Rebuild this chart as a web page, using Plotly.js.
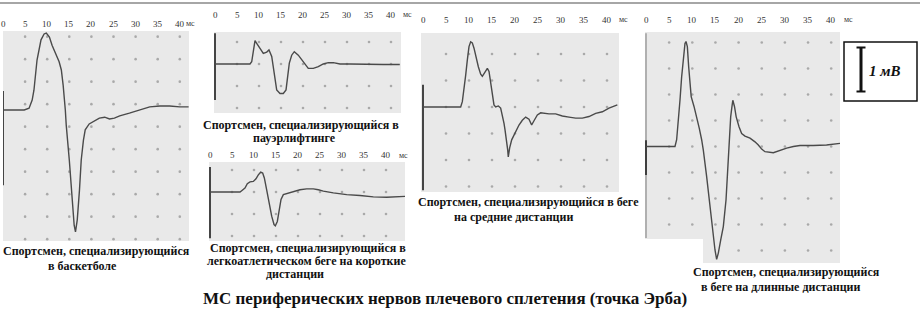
<!DOCTYPE html>
<html><head><meta charset="utf-8">
<script src="https://cdn.plot.ly/plotly-3.0.1.min.js"></script>
<style>html,body{margin:0;padding:0;background:#fff}#chart{width:920px;height:314px}</style>
</head><body><div id="chart"></div>
<script>
// ---------- DATA ----------
const tickValues = [0, 5, 10, 15, 20, 25, 30, 35, 40];
const tickLabels = ["0", "5", "10", "15", "20", "25", "30", "35", "40"];
const unitLabel = "мс";

// Panel 1: basketball
const t1 = [0, 4.8, 5.9, 6.6, 7.0, 7.7, 8.6, 9.3, 9.8, 10.5, 11.1, 12.0, 12.7, 13.2, 13.6, 14.1, 14.3, 15.0, 15.7, 16.1, 16.4, 16.8, 17.3, 17.7, 18.2, 18.6, 19.5, 20.7, 21.8, 23.0, 24.1, 25.2, 26.4, 28.6, 30.9, 33.2, 35.5, 37.7, 40.0, 42.0];
const v1 = [0, 0, 0.04, 0.22, 0.44, 1.11, 1.56, 1.69, 1.71, 1.62, 1.44, 1.22, 1.07, 0.89, 0.56, 0, -0.33, -1.11, -2.0, -2.56, -2.71, -2.44, -1.78, -1.11, -0.67, -0.44, -0.31, -0.24, -0.18, -0.16, -0.2, -0.18, -0.13, -0.07, 0, 0.07, 0.09, 0.09, 0.07, 0.07];
const stim1 = [0.42, -1.67];

// Panel 2: powerlifting
const t2 = [0, 7.95, 8.34, 8.7, 9.09, 9.48, 10.23, 10.98, 11.75, 12.27, 12.89, 13.25, 13.64, 14.02, 14.77, 15.52, 16.14, 16.52, 16.89, 17.43, 18.02, 18.93, 19.7, 20.45, 21.2, 22.34, 23.48, 24.61, 25.75, 26.89, 28.41, 30.68, 34.48, 38.25, 42.0];
const v2 = [0, 0, 0.05, 0.32, 0.53, 0.47, 0.36, 0.24, 0.27, 0.32, 0.17, -0.06, -0.36, -0.59, -0.67, -0.67, -0.59, -0.29, 0.02, 0.2, 0.28, 0.2, 0.09, -0.02, -0.1, -0.1, -0.06, 0, 0.03, 0.03, 0, 0, -0.01, -0.01, -0.01];
const stim2 = [0.7, -0.82];

// Panel 3: short-distance running
const t3 = [0, 6.82, 7.2, 7.95, 8.48, 9.09, 9.85, 10.45, 10.98, 11.52, 11.97, 12.35, 12.88, 13.41, 14.02, 14.55, 14.85, 15.3, 15.76, 16.14, 16.67, 17.42, 18.18, 19.32, 20.45, 21.97, 23.48, 24.62, 25.76, 28.03, 31.06, 34.09, 37.12, 40.15, 43.18, 44.32];
const v3 = [0, 0, 0.03, 0.09, 0.19, 0.23, 0.24, 0.3, 0.39, 0.45, 0.43, 0.32, 0.05, -0.25, -0.55, -0.74, -0.77, -0.67, -0.4, -0.17, -0.06, -0.04, -0.02, 0.02, 0.05, 0.07, 0.07, 0.05, 0.02, -0.02, -0.06, -0.08, -0.11, -0.12, -0.1, -0.1];
const stim3 = [0.57, -1.05];

// Panel 4: middle-distance running
const t4 = [0, 8.19, 8.55, 8.91, 9.28, 9.64, 10.0, 10.36, 10.72, 11.09, 11.45, 12.03, 12.54, 12.9, 13.41, 13.99, 14.35, 14.71, 15.07, 15.43, 15.8, 16.38, 16.88, 17.25, 17.61, 17.83, 18.19, 18.41, 18.54, 18.84, 19.28, 19.78, 20.15, 20.51, 20.87, 21.59, 22.32, 23.04, 23.62, 24.13, 24.86, 25.58, 26.3, 27.39, 28.84, 30.29, 31.74, 33.19, 34.64, 36.09, 37.54, 38.99, 40.43, 41.52, 42.25];
const v4 = [0, 0, 0.1, 0.32, 0.6, 0.89, 1.14, 1.23, 1.21, 1.11, 0.95, 0.76, 0.62, 0.58, 0.65, 0.73, 0.67, 0.45, 0.19, 0.04, 0, 0.02, -0.02, -0.15, -0.31, -0.43, -0.62, -0.81, -0.94, -0.77, -0.62, -0.53, -0.47, -0.4, -0.34, -0.25, -0.19, -0.23, -0.34, -0.26, -0.15, -0.11, -0.12, -0.13, -0.13, -0.17, -0.19, -0.21, -0.21, -0.18, -0.12, -0.09, -0.02, 0.02, 0.04];
const stim4 = [0.42, -1.57];

// Panel 5: long-distance running
const t5 = [0, 6.26, 6.62, 6.98, 7.34, 7.7, 8.06, 8.42, 8.64, 8.93, 9.22, 9.5, 9.76, 10.37, 10.95, 11.51, 12.02, 12.38, 13.1, 13.82, 14.54, 14.9, 15.26, 15.62, 16.13, 16.7, 17.28, 17.64, 17.86, 18.0, 18.29, 18.57, 18.75, 19.11, 19.48, 20.09, 20.66, 21.38, 22.46, 23.54, 24.26, 24.98, 25.7, 27.5, 28.94, 30.38, 31.82, 33.26, 36.13, 39.0, 41.9];
const v5 = [0, 0, 0.13, 0.45, 0.89, 1.34, 1.73, 1.98, 2.02, 1.92, 1.53, 1.15, 0.96, 0.77, 0.57, 0.35, 0.13, -0.07, -0.58, -1.16, -1.73, -1.99, -2.17, -2.05, -1.8, -1.54, -1.03, -0.45, -0.07, 0.25, 0.57, 0.77, 0.89, 0.77, 0.57, 0.38, 0.25, 0.2, 0.16, 0.09, 0.03, -0.05, -0.1, -0.12, -0.07, -0.03, 0, 0.02, 0.02, 0.03, 0.06];
const stim5 = [0.12, -0.55];
const edge5 = [2.18, -1.76];

const captions1 = ["Спортсмен, специализирующийся", "в баскетболе"];
const captions2 = ["Спортсмен, специализирующийся в", "пауэрлифтинге"];
const captions3 = ["Спортсмен, специализирующийся в", "легкоатлетическом беге на короткие", "дистанции"];
const captions4 = ["Спортсмен, специализирующийся в беге", "на средние дистанции"];
const captions5 = ["Спортсмен, специализирующийся", "в беге на длинные дистанции"];
const mainTitle = "МС периферических нервов плечевого сплетения (точка Эрба)";
const scaleLabel = "1 мВ";

// ---------- LAYOUT (pixel geometry) ----------
const W = 920, H = 314;
const panels = [
  {t: t1, v: v1, stim: stim1, gx: [3, 189], gy: [31, 241], t0: 3, pxms: 4.42, base: 110, pxmv: 45, off: 0.13, labY: 24, ms: [190, 24],
   cap: captions1, capPos: [[96, 251], [82, 266]]},
  {t: t2, v: v2, stim: stim2, gx: [214, 401], gy: [32, 113], t0: 215, pxms: 4.4, base: 64, pxmv: 44, off: 0, labY: 15, ms: [407, 15],
   cap: captions2, capPos: [[301, 125], [294, 138]]},
  {t: t3, v: v3, stim: stim3, gx: [209, 405], gy: [162, 241], t0: 210, pxms: 4.4, base: 192, pxmv: 44, off: 0, labY: 155, ms: [403, 155],
   cap: captions3, capPos: [[308, 248], [306, 261], [295, 274]]},
  {t: t4, v: v4, stim: stim4, gx: [421, 619], gy: [33, 192], t0: 423, pxms: 4.6, base: 107, pxmv: 53, off: 0, labY: 20, ms: [623, 20],
   cap: captions4, capPos: [[528, 202], [513, 217]]},
  {t: t5, v: v5, stim: stim5, gx: [645, 840], gy: [32, 263], t0: 646, pxms: 4.63, base: 146.5, pxmv: 52, off: 0, labY: 20, ms: [848, 20],
   cap: captions5, capPos: [[786, 272], [781, 287]], cutY: 239, cutX: 703, edge: edge5}
];

const bg = '#e9e9e9', lineCol = '#4a4a4a', dotCol = '#a9a9a9';
const serif = "'Liberation Serif', 'Times New Roman', 'DejaVu Serif', serif";
const traces = [], shapes = [], annotations = [];
const layout = {
  width: W, height: H, margin: {l: 0, r: 0, t: 0, b: 0},
  paper_bgcolor: '#fff', plot_bgcolor: 'rgba(0,0,0,0)', showlegend: false,
  font: {family: serif, color: '#222'}
};

panels.forEach((p, i) => {
  const s = i === 0 ? '' : String(i + 1);
  const xr = [(p.gx[0] - p.t0) / p.pxms, (p.gx[1] - p.t0) / p.pxms];
  const yr = [(p.base - p.gy[1]) / p.pxmv, (p.base - p.gy[0]) / p.pxmv];
  layout['xaxis' + s] = {
    domain: [p.gx[0] / W, p.gx[1] / W], range: xr, anchor: 'y' + s, side: 'top',
    tickmode: 'array', tickvals: tickValues, ticktext: tickLabels, ticks: '', showticklabels: false,
    showgrid: false, zeroline: false, showline: false, fixedrange: true
  };
  layout['yaxis' + s] = {
    domain: [1 - p.gy[1] / H, 1 - p.gy[0] / H], range: yr, anchor: 'x' + s,
    visible: false, fixedrange: true
  };
  const xref = 'x' + s, yref = 'y' + s;
  tickValues.forEach((tv, j) => {
    annotations.push({xref, yref: 'paper', x: tv, y: 1 - p.labY / H, text: tickLabels[j], showarrow: false,
      xanchor: 'center', yanchor: 'middle', font: {family: serif, size: 9, color: '#333'}});
  });
  if (p.cutY) {
    const yc = (p.base - p.cutY) / p.pxmv, xc = (p.cutX - p.t0) / p.pxms;
    shapes.push({type: 'rect', xref, yref, x0: xr[0], x1: xr[1], y0: yc, y1: yr[1], fillcolor: bg, line: {width: 0}, layer: 'below'});
    shapes.push({type: 'rect', xref, yref, x0: xc, x1: xr[1], y0: yr[0], y1: yc + 0.01, fillcolor: bg, line: {width: 0}, layer: 'below'});
  } else {
    shapes.push({type: 'rect', xref, yref, x0: xr[0], x1: xr[1], y0: yr[0], y1: yr[1], fillcolor: bg, line: {width: 0}, layer: 'below'});
  }
  const dx = [], dy = [];
  const lowMain = p.cutY ? (p.base - p.cutY) / p.pxmv : yr[0];
  for (let k = -12; k <= 12; k++) {
    const yv = p.off + 0.5 * k;
    if (yv < yr[0] - 0.01 || yv > yr[1] - 0.1) continue;
    tickValues.forEach(tv => {
      if (tv === 0) return;
      if (p.cutY && yv < lowMain && tv < 20) return;
      dx.push(tv); dy.push(yv);
    });
  }
  traces.push({x: dx, y: dy, xaxis: xref, yaxis: yref, mode: 'markers', type: 'scatter',
    marker: {size: 2.6, color: dotCol}, hoverinfo: 'skip'});
  if (p.edge) {
    traces.push({x: [0, 0], y: p.edge, xaxis: xref, yaxis: yref, mode: 'lines', type: 'scatter',
      line: {color: '#8a8a8a', width: 1.2}, hoverinfo: 'skip'});
  }
  traces.push({x: [0, 0], y: p.stim, xaxis: xref, yaxis: yref, mode: 'lines', type: 'scatter',
    line: {color: '#333', width: 1.8}, hoverinfo: 'skip'});
  traces.push({x: p.t, y: p.v, xaxis: xref, yaxis: yref, mode: 'lines', type: 'scatter',
    line: {color: lineCol, width: 1.4}, hoverinfo: 'skip'});
  annotations.push({xref: 'paper', yref: 'paper', x: p.ms[0] / W, y: 1 - p.ms[1] / H, text: unitLabel,
    showarrow: false, xanchor: 'center', yanchor: 'middle', font: {family: serif, size: 8, color: '#333'}});
  p.cap.forEach((c, j) => {
    annotations.push({xref: 'paper', yref: 'paper', x: p.capPos[j][0] / W, y: 1 - p.capPos[j][1] / H,
      text: '<b>' + c + '</b>', showarrow: false, xanchor: 'center', yanchor: 'middle',
      font: {family: serif, size: 12, color: '#111'}});
  });
});

annotations.push({xref: 'paper', yref: 'paper', x: 445 / W, y: 1 - 298 / H, text: '<b>' + mainTitle + '</b>',
  showarrow: false, xanchor: 'center', yanchor: 'middle', font: {family: serif, size: 17, color: '#111'}});

shapes.push({type: 'line', xref: 'paper', yref: 'paper', x0: 0, x1: 1, y0: 1 - 3 / H, y1: 1 - 3 / H,
  line: {color: '#888', width: 1.5}});
const px = (x) => x / W, py = (y) => 1 - y / H;
shapes.push({type: 'rect', xref: 'paper', yref: 'paper', x0: px(844), x1: px(917), y0: py(101), y1: py(42),
  line: {color: '#111', width: 1.5}, fillcolor: '#fff'});
shapes.push({type: 'line', xref: 'paper', yref: 'paper', x0: px(861), x1: px(861), y0: py(92), y1: py(47), line: {color: '#111', width: 3}});
shapes.push({type: 'line', xref: 'paper', yref: 'paper', x0: px(856.5), x1: px(865.5), y0: py(47.5), y1: py(47.5), line: {color: '#111', width: 2}});
shapes.push({type: 'line', xref: 'paper', yref: 'paper', x0: px(856.5), x1: px(865.5), y0: py(91.5), y1: py(91.5), line: {color: '#111', width: 2}});
annotations.push({xref: 'paper', yref: 'paper', x: px(885), y: py(71), text: '<b><i>' + scaleLabel + '</i></b>',
  showarrow: false, xanchor: 'center', yanchor: 'middle', font: {family: serif, size: 15, color: '#111'}});

layout.shapes = shapes;
layout.annotations = annotations;
Plotly.newPlot('chart', traces, layout, {staticPlot: true, displayModeBar: false});
</script>
</body></html>
